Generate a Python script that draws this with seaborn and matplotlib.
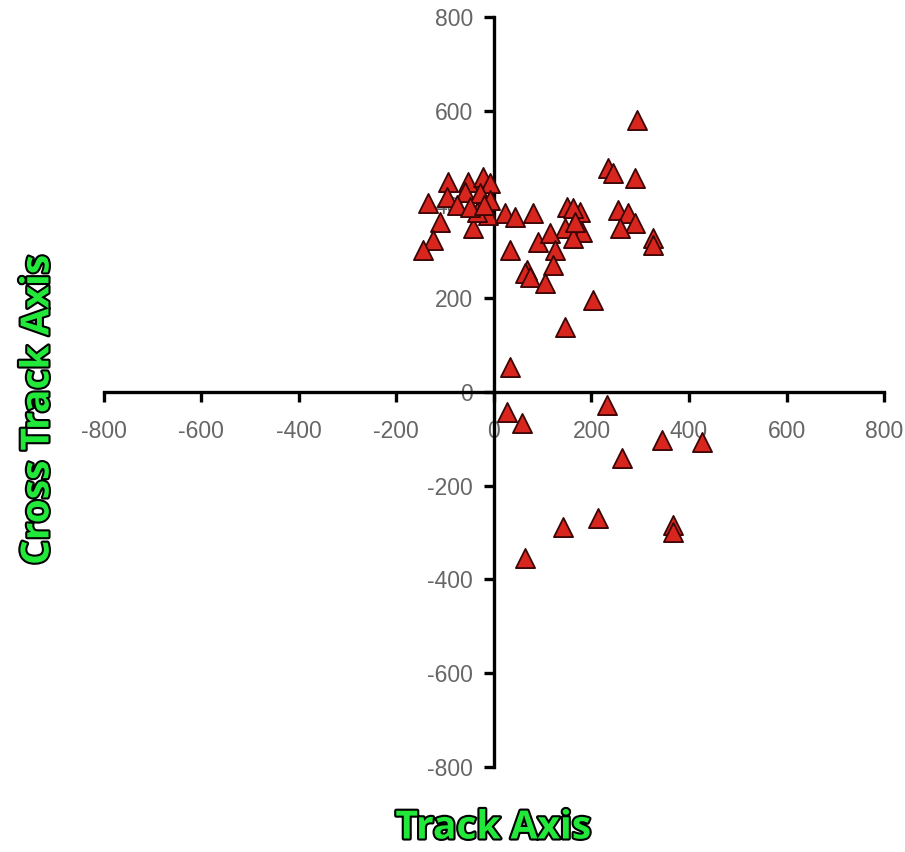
import matplotlib
matplotlib.use("Agg")
import matplotlib.pyplot as plt
import matplotlib.patheffects as pe
import seaborn as sns
import pandas as pd

# track / cross-track positions
track = [-94, -53, -23, -8, -135, -96, -59, -29, -8, -111, -43, -12, -35, 23, 43, 80,
         -125, -145, 33, 90, 68, 234, 244, 289, 150, 176, 162, 145, 180, 162, 115, 125,
         121, 254, 275, 289, 258, 326, 326, 293, 64, 74, 105, 203, 145, 33, 27, 57,
         232, 344, 426, 262, 141, 213, 367, 367, 64, -75, -50, -20, 166]
cross = [448, 448, 458, 446, 403, 416, 426, 424, 409, 362, 350, 377, 384, 382, 373, 382,
         324, 303, 303, 320, 260, 478, 467, 456, 394, 384, 392, 350, 341, 328, 339, 303,
         271, 388, 382, 360, 350, 328, 313, 580, 254, 245, 232, 196, 139, 53, -43, -66,
         -28, -102, -107, -141, -288, -269, -284, -299, -354, 400, 395, 400, 362]

ticks = [-800, -600, -400, -200, 0, 200, 400, 600, 800]

df = pd.DataFrame({"track": track, "cross": cross})

sns.set_style("white")
fig = plt.figure(figsize=(9.05, 8.52), dpi=100)
ax = fig.add_axes([0.1145, 0.0998, 0.8625, 0.8802])

sns.scatterplot(data=df, x="track", y="cross", marker="^", s=190,
                color="#D8261E", edgecolor="#3a0505", linewidth=1.3, ax=ax, zorder=3)

ax.set_xlim(-800, 800)
ax.set_ylim(-800, 800)
ax.spines["left"].set_position(("data", 0))
ax.spines["bottom"].set_position(("data", 0))
ax.spines["right"].set_visible(False)
ax.spines["top"].set_visible(False)
for s in ["left", "bottom"]:
    ax.spines[s].set_linewidth(2.4)
    ax.spines[s].set_color("black")
    ax.spines[s].set_zorder(2)

ax.set_xticks(ticks)
ax.set_yticks(ticks)
ax.set_xticklabels([str(t) for t in ticks])
ax.set_yticklabels([str(t) for t in ticks])
ax.tick_params(axis="both", direction="out", length=7, width=2.4, color="black",
               labelsize=16.5, labelcolor="#666666", bottom=True, left=True)
ax.tick_params(axis="x", pad=13)
ax.tick_params(axis="y", pad=8)
for lab in ax.get_xticklabels() + ax.get_yticklabels():
    lab.set_fontfamily("Liberation Sans")
ax.set_xlabel("")
ax.set_ylabel("")

outline = [pe.withStroke(linewidth=3, foreground="black")]
fig.text(0.545, 1 - 828 / 852, "Track Axis", ha="center", va="center", fontsize=28,
         fontweight="bold", family="Open Sans", color="#22E83A", path_effects=outline)
fig.text(38 / 905, 1 - 410 / 852, "Cross Track Axis", ha="center", va="center",
         rotation=90, fontsize=28, fontweight="bold", family="Open Sans",
         color="#22E83A", path_effects=outline)

fig.savefig("out.png", dpi=100)
